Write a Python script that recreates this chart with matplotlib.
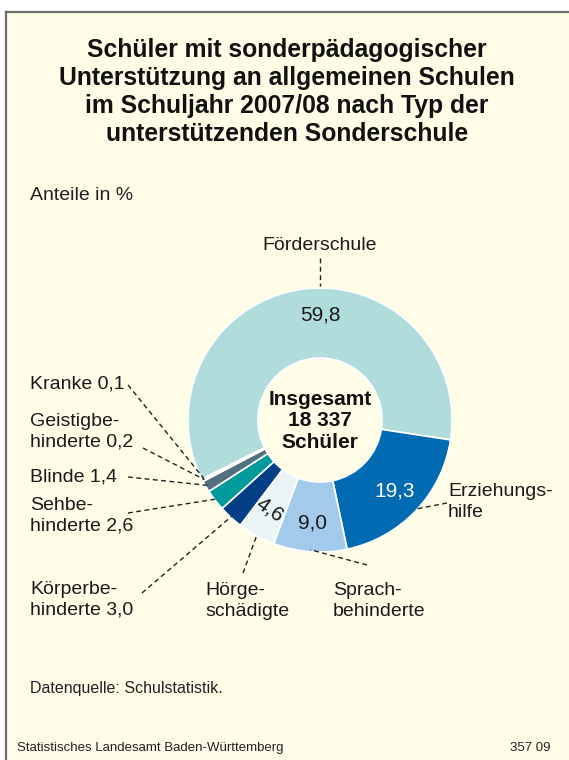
import numpy as np
import matplotlib
matplotlib.use("Agg")
import matplotlib.pyplot as plt
from matplotlib.patches import Rectangle

plt.rcParams['font.family'] = ['Liberation Sans', 'DejaVu Sans']

# Daten (Anteile in %)
kategorien = ["Förderschule", "Erziehungshilfe", "Sprachbehinderte", "Hörgeschädigte",
              "Körperbehinderte", "Sehbehinderte", "Blinde", "Geistigbehinderte", "Kranke"]
anteile = [59.8, 19.3, 9.0, 4.6, 3.0, 2.6, 1.4, 0.2, 0.1]
farben = ["#B1DCDC", "#006AB2", "#A3CAEA", "#EAF4F4", "#023F87",
          "#009A9A", "#52707D", "#F3F3EA", "#2A2A2A"]
beschriftung = ["Förderschule", "Erziehungs-\nhilfe", "Sprach-\nbehinderte", "Hörge-\nschädigte",
                "Körperbe-\nhinderte 3,0", "Sehbe-\nhinderte 2,6", "Blinde 1,4",
                "Geistigbe-\nhinderte 0,2", "Kranke 0,1"]
werte_im_ring = {0: "59,8", 1: "19,3", 2: "9,0", 3: "4,6"}
insgesamt = "18 337"

W, H = 569, 760
fig = plt.figure(figsize=(W / 100, H / 100), dpi=100, facecolor="white")
ax = fig.add_axes([0, 0, 1, 1])

def py(y):
    # Pixelzeile (von oben) -> Achsenkoordinate
    return H - y

# Hintergrund-Kasten
ax.add_patch(Rectangle((6, 0), W - 6, py(12), facecolor="#FFFCE8", edgecolor="none", zorder=0))
ax.plot([6, 6], [0, py(12)], color="#6E6E6E", lw=1.6, zorder=1)
ax.plot([6, W], [py(12), py(12)], color="#6E6E6E", lw=1.6, zorder=1)

# Titel
ax.text(287, py(92), "Schüler mit sonderpädagogischer\nUnterstützung an allgemeinen Schulen\n"
        "im Schuljahr 2007/08 nach Typ der\nunterstützenden Sonderschule",
        ha="center", va="center", fontsize=17.8, fontweight="bold", linespacing=1.2, color="#111111")
ax.text(30, py(196), "Anteile in %", ha="left", va="center", fontsize=14, color="#222222")

# Ring
cx, cy = 320, py(420)
r_out, r_in = 132, 62
start = 206.6
wedges, _ = ax.pie(anteile, colors=farben, startangle=start, counterclock=False,
                   radius=r_out, center=(cx, cy), frame=True,
                   wedgeprops=dict(width=r_out - r_in, edgecolor="white", linewidth=1.2))
ax.set_xlim(0, W)
ax.set_ylim(0, H)
ax.set_aspect("equal")
ax.axis("off")

# Mittelwinkel der Segmente
grenzen = start - np.cumsum([0] + anteile) * 3.6
mitte = (grenzen[:-1] + grenzen[1:]) / 2

# Werte im Ring
for i, txt in werte_im_ring.items():
    a = 90.0 if i == 0 else mitte[i]
    r = 105 if i == 0 else 103
    x = cx + r * np.cos(np.radians(a))
    y = cy + r * np.sin(np.radians(a))
    col = "white" if i == 1 else "#1a1a1a"
    rot = -35 if i == 3 else 0
    ax.text(x, y, txt, ha="center", va="center", fontsize=15, color=col, rotation=rot)

ax.text(cx, cy - 1, "Insgesamt\n" + insgesamt + "\nSchüler", ha="center", va="center",
        fontsize=15, fontweight="bold", linespacing=1.18, color="#111111")

# Beschriftungen mit Hinweislinien: (Textposition, Ausrichtung, Linienende)
layout = [
    ((320, 246), "center", (320, 258)),
    ((448, 502), "left", (447, 503)),
    ((333, 601), "left", (367, 565)),
    ((205, 601), "left", (243, 573)),
    ((30, 600), "left", (142, 593)),
    ((30, 516), "left", (128, 513)),
    ((30, 477), "left", (128, 477)),
    ((30, 432), "left", (143, 448)),
    ((30, 384), "left", (128, 385)),
]
for i, ((tx, ty), ha, (lx, ly)) in enumerate(layout):
    ax.text(tx, py(ty), beschriftung[i], ha=ha, va="center", fontsize=14,
            linespacing=1.3, color="#1a1a1a")
    a = 90.0 if i == 0 else mitte[i]
    r = r_out + 2 if i == 0 else r_out - 2
    ax_ = cx + r * np.cos(np.radians(a))
    ay_ = cy + r * np.sin(np.radians(a))
    ax.plot([lx, ax_], [py(ly), ay_], color="#222222", lw=1.0,
            linestyle=(0, (3.5, 2.5)), zorder=3)

# Fußzeilen
ax.text(30, py(688), "Datenquelle: Schulstatistik.", ha="left", va="center", fontsize=11.5, color="#222222")
ax.text(17, py(748), "Statistisches Landesamt Baden-Württemberg", ha="left", va="center",
        fontsize=9.5, color="#222222")
ax.text(551, py(748), "357 09", ha="right", va="center", fontsize=9.5, color="#222222")

fig.savefig("out.png", dpi=100, facecolor="white")
